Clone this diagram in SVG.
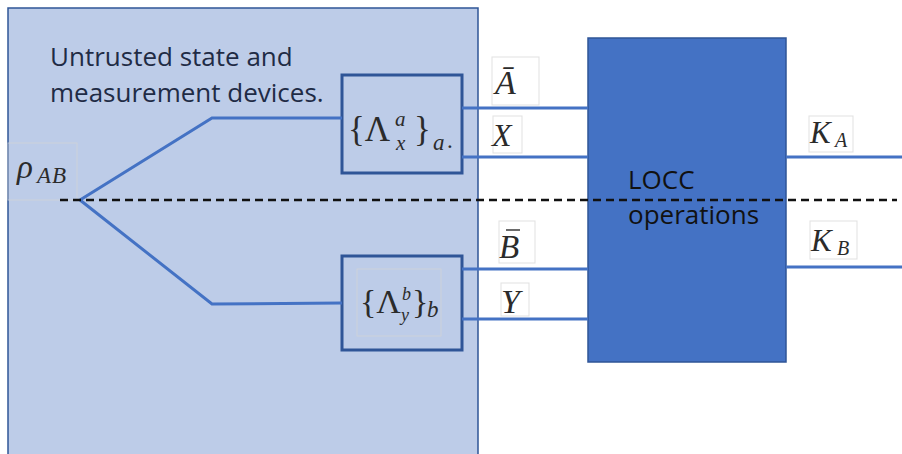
<svg xmlns="http://www.w3.org/2000/svg" width="902" height="454" viewBox="0 0 902 454">
  <style>
    .panel { fill: #bdcce8; stroke: #2f5597; stroke-width: 1.5; }
    .dev { fill: none; stroke: #2f5597; stroke-width: 3; }
    .wire { fill: none; stroke: #4472c4; stroke-width: 3; }
    .cut { fill: none; stroke: #111; stroke-width: 2.5; stroke-dasharray: 8 5; }
    .locc { fill: #4472c4; stroke: #2f5597; stroke-width: 1.5; }
    .frame { fill: none; stroke: #d4d4d4; stroke-width: 1; opacity: 0.7; }
    .sans { font-family: "Open Sans", "Noto Sans", sans-serif; font-size: 26px; }
    .m { font-family: "Liberation Serif", "Times New Roman", serif; fill: #2b2b2b; }
    .i { font-style: italic; }
  </style>

  <!-- untrusted region -->
  <rect id="untrusted" class="panel" x="8" y="8" width="470" height="460"/>
  <text class="sans" fill="#1f2b45">
    <tspan x="50" y="66">Untrusted state and</tspan>
    <tspan x="50" y="102">measurement devices.</tspan>
  </text>

  <!-- source state -->
  <g id="rho">
    <rect class="frame" x="8" y="143" width="69" height="57"/>
    <text class="m i"><tspan x="17" y="178" font-size="33">ρ</tspan><tspan x="37" y="183" font-size="23" letter-spacing="1">AB</tspan></text>
  </g>

  <!-- measurement device A -->
  <g id="devA">
    <rect class="dev" x="342" y="75" width="120" height="98"/>
    <text class="m"><tspan x="348" y="141" font-size="35">{Λ</tspan><tspan class="i" x="395" y="126" font-size="21">a</tspan><tspan class="i" x="396" y="150" font-size="21">x</tspan><tspan x="414" y="141" font-size="35">}</tspan><tspan class="i" x="433" y="150" font-size="23">a</tspan><tspan x="447" y="148" font-size="23">.</tspan></text>
  </g>

  <!-- measurement device B -->
  <g id="devB">
    <rect class="dev" x="342" y="256" width="120" height="94"/>
    <rect class="frame" x="357" y="269" width="84" height="67"/>
    <text class="m"><tspan x="360" y="313" font-size="34">{Λ</tspan><tspan class="i" x="402" y="300" font-size="18">b</tspan><tspan class="i" x="401" y="321" font-size="18">y</tspan><tspan x="412" y="313" font-size="34">}</tspan><tspan class="i" x="427" y="317" font-size="23">b</tspan></text>
  </g>

  <!-- classical post-processing -->
  <g id="locc">
    <rect class="locc" x="588" y="38" width="198" height="324"/>
    <text class="sans" fill="#111">
      <tspan x="628" y="189">LOCC</tspan>
      <tspan x="628" y="224">operations</tspan>
    </text>
  </g>

  <!-- connectors -->
  <g id="connectors">
    <polyline class="wire" points="80,200 212,118 342,118"/>
    <polyline class="wire" points="80,200 212,304 342,303"/>
    <line class="wire" x1="462" y1="108" x2="588" y2="108"/>
    <line class="wire" x1="462" y1="157" x2="588" y2="157"/>
    <line class="wire" x1="462" y1="269" x2="588" y2="269"/>
    <line class="wire" x1="462" y1="319" x2="588" y2="319"/>
    <line class="wire" x1="786" y1="157" x2="902" y2="157"/>
    <line class="wire" x1="786" y1="267" x2="902" y2="267"/>
    <line class="cut" x1="60" y1="200" x2="897" y2="200"/>
  </g>

  <!-- wire labels -->
  <g id="labelAbar">
    <rect class="frame" x="492" y="57" width="47" height="48"/>
    <text class="m i" x="495" y="94" font-size="34">Ā</text>
  </g>
  <g id="labelX">
    <rect class="frame" x="493" y="116" width="29" height="37"/>
    <text class="m i" x="492" y="146" font-size="32">X</text>
  </g>
  <g id="labelBbar">
    <rect class="frame" x="499" y="221" width="36" height="42"/>
    <line x1="506" y1="230" x2="520" y2="230" stroke="#2b2b2b" stroke-width="1.4"/>
    <text class="m i" x="499" y="258" font-size="33">B</text>
  </g>
  <g id="labelY">
    <rect class="frame" x="501" y="283" width="28" height="33"/>
    <text class="m i" x="501" y="313" font-size="34">Y</text>
  </g>
  <g id="labelKA">
    <rect class="frame" x="809" y="116" width="44" height="36"/>
    <text class="m i"><tspan x="810" y="143" font-size="31">K</tspan><tspan x="835" y="147" font-size="20">A</tspan></text>
  </g>
  <g id="labelKB">
    <rect class="frame" x="810" y="221" width="47" height="38"/>
    <text class="m i"><tspan x="811" y="251" font-size="31">K</tspan><tspan x="837" y="255" font-size="20">B</tspan></text>
  </g>
</svg>
